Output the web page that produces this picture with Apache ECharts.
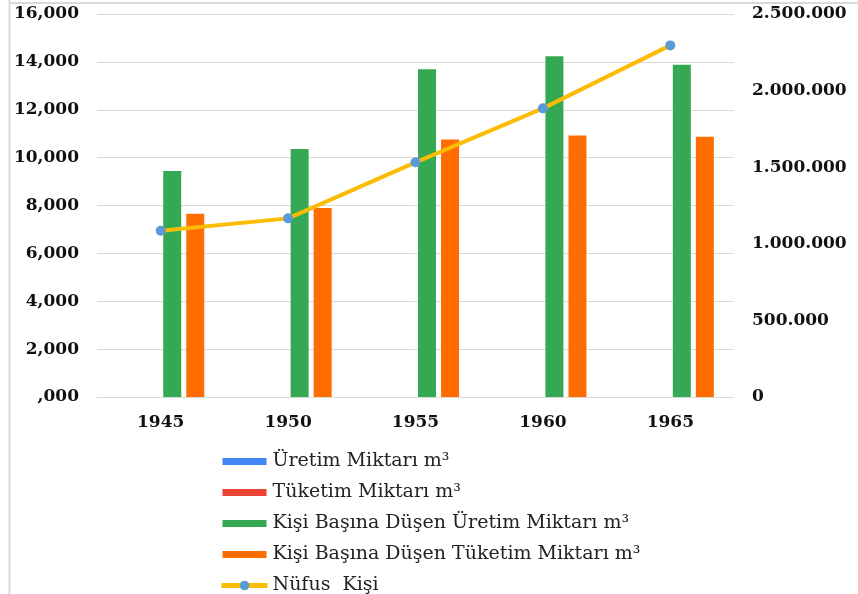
<!DOCTYPE html>
<html>
<head>
<meta charset="utf-8">
<script src="https://cdn.jsdelivr.net/npm/echarts@6/dist/echarts.min.js"></script>
<style>html,body{margin:0;padding:0;background:#fff;}#c{width:858px;height:594px;}</style>
</head>
<body>
<div id="c"></div>
<script>
const years = ['1945', '1950', '1955', '1960', '1965'];
const uretim = [0, 0, 0, 0, 0];
const tuketim = [0, 0, 0, 0, 0];
const kisiUretim = [9440, 10360, 13690, 14240, 13880];
const kisiTuketim = [7660, 7900, 10760, 10920, 10870];
const nufus = [1085000, 1166000, 1532000, 1884000, 2295000];
const leftTicks = [0, 2000, 4000, 6000, 8000, 10000, 12000, 14000, 16000];
const rightTicks = [0, 500000, 1000000, 1500000, 2000000, 2500000];

const names = ['Üretim Miktarı m³', 'Tüketim Miktarı m³', 'Kişi Başına Düşen Üretim Miktarı m³', 'Kişi Başına Düşen Tüketim Miktarı m³', 'Nüfus  Kişi'];
const font = '"DejaVu Serif", "Liberation Serif", serif';

function fmtLeft(v) {
  if (v === 0) return ',000';
  return String(v).replace(/\B(?=(\d{3})+(?!\d))/g, ',');
}
function fmtRight(v) {
  return String(v).replace(/\B(?=(\d{3})+(?!\d))/g, '.');
}

const barIcon = 'path://M0,0L0.01,0L0.01,0.01Z M0,2.5L44,2.5L44,9.5L0,9.5Z M0,12L0.01,12L0.01,11.99Z';

const chart = echarts.init(document.getElementById('c'), null, {renderer: 'canvas'});
chart.setOption({
  animation: false,
  backgroundColor: '#fff',
  graphic: [
    {type: 'line', shape: {x1: 9.5, y1: 0, x2: 9.5, y2: 594}, style: {stroke: '#d9d9d9', lineWidth: 2}, silent: true},
    {type: 'line', shape: {x1: 9, y1: 3, x2: 858, y2: 3}, style: {stroke: '#d9d9d9', lineWidth: 2}, silent: true}
  ],
  grid: {left: 97, right: 124, top: 14, bottom: 197, containLabel: false},
  legend: {
    orient: 'vertical',
    left: 219,
    top: 452,
    padding: 0,
    height: 160,
    itemWidth: 46,
    itemHeight: 12,
    itemGap: 12,
    textStyle: {fontFamily: font, fontSize: 19, color: '#222', lineHeight: 18},
    data: [
      {name: names[0], icon: barIcon},
      {name: names[1], icon: barIcon},
      {name: names[2], icon: barIcon},
      {name: names[3], icon: barIcon},
      {name: names[4], lineStyle: {width: 5}}
    ]
  },
  xAxis: {
    type: 'category',
    data: years,
    axisTick: {show: false},
    axisLine: {show: true, lineStyle: {color: '#d9d9d9', width: 1}},
    axisLabel: {fontFamily: font, fontWeight: 'bold', fontSize: 17, color: '#111', margin: 17}
  },
  yAxis: [
    {
      type: 'value', min: 0, max: 16000, interval: 2000,
      axisLine: {show: false}, axisTick: {show: false},
      splitLine: {lineStyle: {color: '#d9d9d9', width: 1}},
      axisLabel: {fontFamily: font, fontWeight: 'bold', fontSize: 17, color: '#111', margin: 18, formatter: fmtLeft}
    },
    {
      type: 'value', min: 0, max: 2500000, interval: 500000,
      axisLine: {show: false}, axisTick: {show: false},
      splitLine: {show: false},
      axisLabel: {fontFamily: font, fontWeight: 'bold', fontSize: 17, color: '#111', margin: 18, formatter: fmtRight}
    }
  ],
  series: [
    {name: names[0], type: 'bar', data: uretim, barWidth: 18, barGap: '28%', itemStyle: {color: '#4285F4'}},
    {name: names[1], type: 'bar', data: tuketim, barWidth: 18, barGap: '28%', itemStyle: {color: '#EA4335'}},
    {name: names[2], type: 'bar', data: kisiUretim, barWidth: 18, barGap: '28%', itemStyle: {color: '#34A853'}},
    {name: names[3], type: 'bar', data: kisiTuketim, barWidth: 18, barGap: '28%', itemStyle: {color: '#FF6D01'}},
    {name: names[4], type: 'line', yAxisIndex: 1, data: nufus,
     symbol: 'circle', symbolSize: 10,
     lineStyle: {color: '#FBBC04', width: 4},
     itemStyle: {color: '#5B9BD5'}, z: 5}
  ]
});
</script>
</body>
</html>
